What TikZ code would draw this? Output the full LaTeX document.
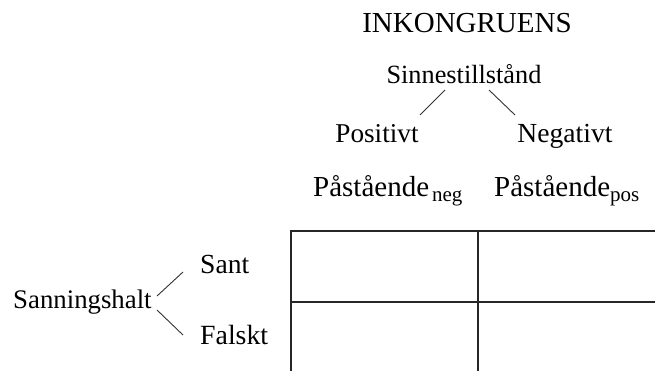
\documentclass[tikz,border=0pt]{standalone}
\usepackage{fontspec}
\setmainfont{Liberation Serif}
\newcommand{\fsz}[1]{\fontsize{#1}{#1}\selectfont}
\begin{document}
\begin{tikzpicture}[x=1pt,y=-1pt,
  lbl/.style={inner sep=0pt,anchor=base},
  twig/.style={line width=0.9pt,draw=black!80},
  gridline/.style={line width=1.6pt,draw=black!85}]
\useasboundingbox (0,0) rectangle (655,370);
% title and top tree
\node[lbl,font=\fsz{29}] (title) at (467,32) {INKONGRUENS};
\node[lbl,font=\fsz{26.3}] (sin) at (464,83) {Sinnestillstånd};
\node[lbl,font=\fsz{27.2}] (pos) at (377,142) {Positivt};
\node[lbl,font=\fsz{27.6}] (neg) at (565,142) {Negativt};
\node[lbl,anchor=base west,font=\fsz{29}] (pneg) at (313,196) {Påstående\hspace{3pt}{\fsz{21}\raisebox{-5pt}{neg}}};
\node[lbl,anchor=base west,font=\fsz{29}] (ppos) at (494,196) {Påstående{\fsz{21}\raisebox{-5pt}{pos}}};
% left tree
\node[lbl,anchor=base west,font=\fsz{26.8}] (sann) at (13,308) {Sanningshalt};
\node[lbl,anchor=base west,font=\fsz{27.6}] (sant) at (200,273) {Sant};
\node[lbl,anchor=base west,font=\fsz{27.8}] (fals) at (200,344) {Falskt};
% twig endpoints
\coordinate (s1) at (445,90);  \coordinate (p1) at (420,115);
\coordinate (s2) at (489,90);  \coordinate (n1) at (515,115);
\coordinate (h1) at (157,296); \coordinate (t1) at (183,272);
\coordinate (h2) at (157,310); \coordinate (f1) at (183,335);
\draw[twig] (s1) -- (p1);
\draw[twig] (s2) -- (n1);
\draw[twig] (h1) -- (t1);
\draw[twig] (h2) -- (f1);
% table
\coordinate (g0) at (291,231);
\coordinate (gm) at (478,302);
\draw[gridline] (g0 -| 660,0) -- (g0) -- (g0 |- 0,375);
\draw[gridline] (gm |- g0) -- (gm |- 0,375);
\draw[gridline] (g0 |- gm) -- (660,0 |- gm);
\end{tikzpicture}
\end{document}
